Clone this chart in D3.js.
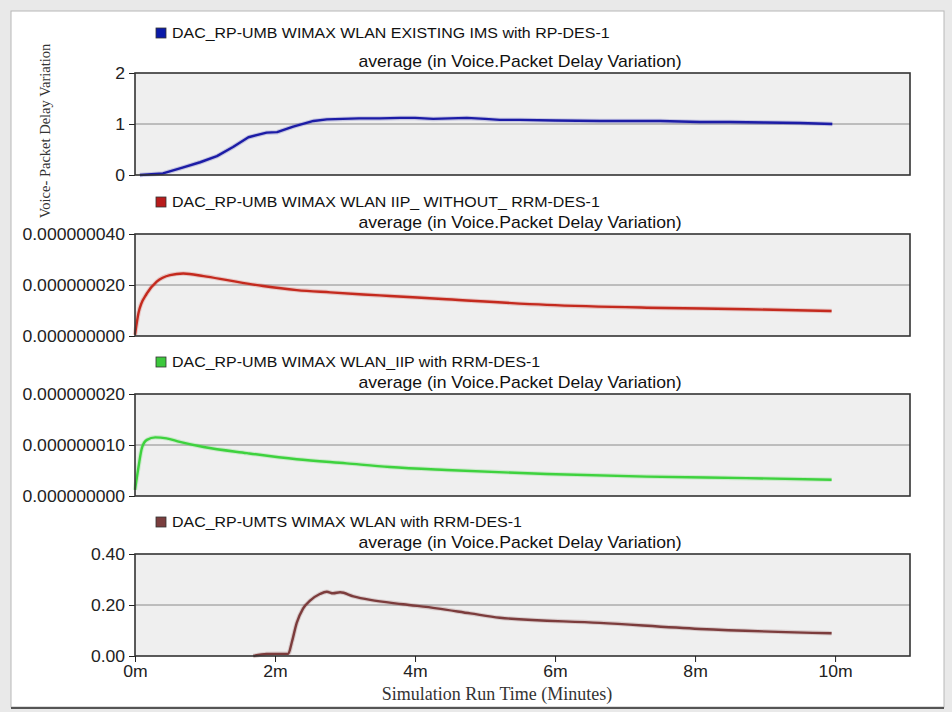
<!DOCTYPE html>
<html>
<head>
<meta charset="utf-8">
<script src="https://cdn.jsdelivr.net/npm/d3@7/dist/d3.min.js"></script>
<style>
  body { margin: 0; background: #ffffff; }
  svg { display: block; }
  .tick text { font-family: "Liberation Sans", Arial, sans-serif; font-size: 16px; fill: #222; }
  .legend { font-family: "Liberation Sans", Arial, sans-serif; font-size: 14.5px; fill: #111; }
  .sub { font-family: "Liberation Sans", Arial, sans-serif; font-size: 16px; fill: #111; }
  .serif { font-family: "Liberation Serif", "Times New Roman", serif; fill: #333; }
</style>
</head>
<body>
<svg id="chart" width="952" height="712"></svg>
<script>
// time axis in minutes
var blueT = [0.07, 0.4, 0.69, 0.93, 1.17, 1.4, 1.62, 1.88, 2.03, 2.26, 2.55, 2.74, 3.2, 3.5, 3.79, 4.0, 4.26, 4.5, 4.74, 5.0, 5.21, 5.5, 6.0, 6.64, 7.0, 7.5, 8.07, 8.5, 9.0, 9.5, 9.96];
var blueV = [0, 0.03, 0.15, 0.25, 0.37, 0.55, 0.74, 0.83, 0.84, 0.95, 1.06, 1.09, 1.11, 1.11, 1.12, 1.12, 1.10, 1.11, 1.12, 1.10, 1.08, 1.08, 1.07, 1.06, 1.06, 1.06, 1.04, 1.04, 1.03, 1.02, 1.0];

var redT = [0, 0.05, 0.17, 0.31, 0.5, 0.69, 0.98, 1.36, 1.83, 2.31, 2.79, 3.26, 3.64, 4.45, 5.88, 7.31, 8.74, 9.95];
var redV = [0.5e-9, 9e-9, 16.7e-9, 21.3e-9, 23.9e-9, 24.5e-9, 23.5e-9, 21.7e-9, 19.6e-9, 18e-9, 17.1e-9, 16.3e-9, 15.7e-9, 14.4e-9, 12.2e-9, 11.1e-9, 10.5e-9, 9.8e-9];

var greenT = [0, 0.05, 0.1, 0.17, 0.29, 0.45, 0.64, 0.98, 1.6, 2.31, 3.02, 3.64, 4.45, 5.88, 7.31, 8.74, 9.95];
var greenV = [1.2e-9, 5.7e-9, 9.5e-9, 11e-9, 11.5e-9, 11.3e-9, 10.6e-9, 9.6e-9, 8.4e-9, 7.2e-9, 6.4e-9, 5.7e-9, 5.1e-9, 4.3e-9, 3.8e-9, 3.5e-9, 3.2e-9];

var brownT = [1.69, 1.88, 2.19, 2.24, 2.31, 2.4, 2.5, 2.64, 2.74, 2.83, 2.93, 3.12, 3.36, 3.83, 4.31, 4.79, 5.21, 6.64, 8.07, 9.95];
var brownV = [0, 0.008, 0.009, 0.054, 0.13, 0.186, 0.217, 0.243, 0.252, 0.246, 0.25, 0.234, 0.22, 0.203, 0.187, 0.167, 0.15, 0.13, 0.106, 0.089];

var legendNames = [
    "DAC_RP-UMB WIMAX WLAN EXISTING IMS with RP-DES-1",
    "DAC_RP-UMB WIMAX WLAN IIP_ WITHOUT_ RRM-DES-1",
    "DAC_RP-UMB WIMAX WLAN_IIP with RRM-DES-1",
    "DAC_RP-UMTS WIMAX WLAN with RRM-DES-1"
];
var subLabel = "average (in Voice.Packet Delay Variation)";
var yTicks = [[0, 1, 2], [0, 20e-9, 40e-9], [0, 10e-9, 20e-9], [0, 0.2, 0.4]];
var yFormats = ["d", ".9f", ".9f", ".2f"];
var xTicks = [0, 2, 4, 6, 8, 10];
var xTitle = "Simulation Run Time (Minutes)";
var yTitle = "Voice- Packet Delay Variation";

var lineColors = ["#1c1ca6", "#c42a1e", "#3ed23e", "#7c3c3c"];
var keyColors = ["#0a1aa8", "#b81c1c", "#3cc83c", "#7a3e3e"];

// the old screenshot is stretched sideways a little
var STRETCH = 1.1;

var svg = d3.select("#chart");

// window frame
svg.append("rect").attr("x", 0).attr("y", 0).attr("width", 952).attr("height", 712).attr("fill", "#e9e9e9");
svg.append("rect").attr("x", 11).attr("y", 11).attr("width", 933).attr("height", 696)
    .attr("fill", "#ffffff").attr("stroke", "#b8b8b8");
svg.append("line").attr("x1", 11).attr("x2", 944).attr("y1", 708).attr("y2", 708)
    .attr("stroke", "#555").attr("stroke-width", 2);

var left = 135, right = 910, ph = 102;
var tops = [73, 234, 394, 554];

var x = d3.scaleLinear().domain([0, 11.07]).range([left, right]);

function stretchedText(parent, cls, px, py, str, anchor) {
    return parent.append("text").attr("class", cls)
        .attr("transform", "translate(" + px + "," + py + ") scale(" + STRETCH + ",1)")
        .attr("text-anchor", anchor || "start")
        .text(str);
}

var series = [
    {t: blueT, v: blueV, curve: d3.curveLinear},
    {t: redT, v: redV, curve: d3.curveMonotoneX},
    {t: greenT, v: greenV, curve: d3.curveMonotoneX},
    {t: brownT, v: brownV, curve: d3.curveMonotoneX}
];

series.forEach(function(s, i) {
    var top = tops[i];
    var ticks = yTicks[i];
    var y = d3.scaleLinear().domain([0, ticks[2]]).range([top + ph, top]);
    var g = svg.append("g");

    // legend (first panel has a bit more room above it)
    var ly = (i == 0) ? top - 40 : top - 32;
    g.append("rect").attr("x", 156).attr("y", ly - 5).attr("width", 10).attr("height", 10)
        .attr("fill", keyColors[i]).attr("stroke", "#333").attr("stroke-width", 0.8);
    stretchedText(g, "legend", 172, ly + 5, legendNames[i]);
    stretchedText(g, "sub", 520, top - 6, subLabel, "middle");

    // plot background
    g.append("rect").attr("x", left).attr("y", top).attr("width", right - left).attr("height", ph)
        .attr("fill", "#efefef");

    // middle grid line
    g.append("line").attr("x1", left).attr("x2", right)
        .attr("y1", y(ticks[1])).attr("y2", y(ticks[1]))
        .attr("stroke", "#8a8a8a").attr("stroke-width", 1);

    var yAxis = g.append("g").attr("transform", "translate(" + left + ",0)")
        .call(d3.axisLeft(y).tickValues(ticks).tickFormat(d3.format(yFormats[i])).tickSize(6).tickPadding(3));
    yAxis.select(".domain").remove();
    yAxis.selectAll(".tick line").attr("stroke", "#222");
    yAxis.selectAll(".tick text").attr("transform", "scale(" + STRETCH + ",1)");

    // the series line
    var line = d3.line()
        .x(function(d) { return x(d[0]); })
        .y(function(d) { return y(d[1]); })
        .curve(s.curve);
    var pts = d3.zip(s.t, s.v);
    g.append("path").datum(pts).attr("d", line)
        .attr("fill", "none").attr("stroke", lineColors[i]).attr("stroke-width", 4.5)
        .attr("stroke-opacity", 0.2);
    g.append("path").datum(pts).attr("d", line)
        .attr("fill", "none").attr("stroke", lineColors[i]).attr("stroke-width", 2.4)
        .attr("stroke-linejoin", "round");

    // frame
    g.append("rect").attr("x", left).attr("y", top).attr("width", right - left).attr("height", ph)
        .attr("fill", "none").attr("stroke", "#333").attr("stroke-width", 1.6);

    if (i == 3) {
        var xAxis = g.append("g").attr("transform", "translate(0," + (top + ph) + ")")
            .call(d3.axisBottom(x).tickValues(xTicks).tickFormat(function(d) { return d + "m"; })
                .tickSize(6).tickPadding(4));
        xAxis.select(".domain").remove();
        xAxis.selectAll(".tick line").attr("stroke", "#222");
        xAxis.selectAll(".tick text").attr("transform", "scale(" + STRETCH + ",1)");
    }
});

svg.append("text").attr("class", "serif").attr("x", 497).attr("y", 700)
    .attr("text-anchor", "middle").style("font-size", "18px").text(xTitle);

svg.append("text").attr("class", "serif")
    .attr("transform", "translate(50,131) rotate(-90)")
    .attr("text-anchor", "middle").style("font-size", "14.5px").text(yTitle);
</script>
</body>
</html>
